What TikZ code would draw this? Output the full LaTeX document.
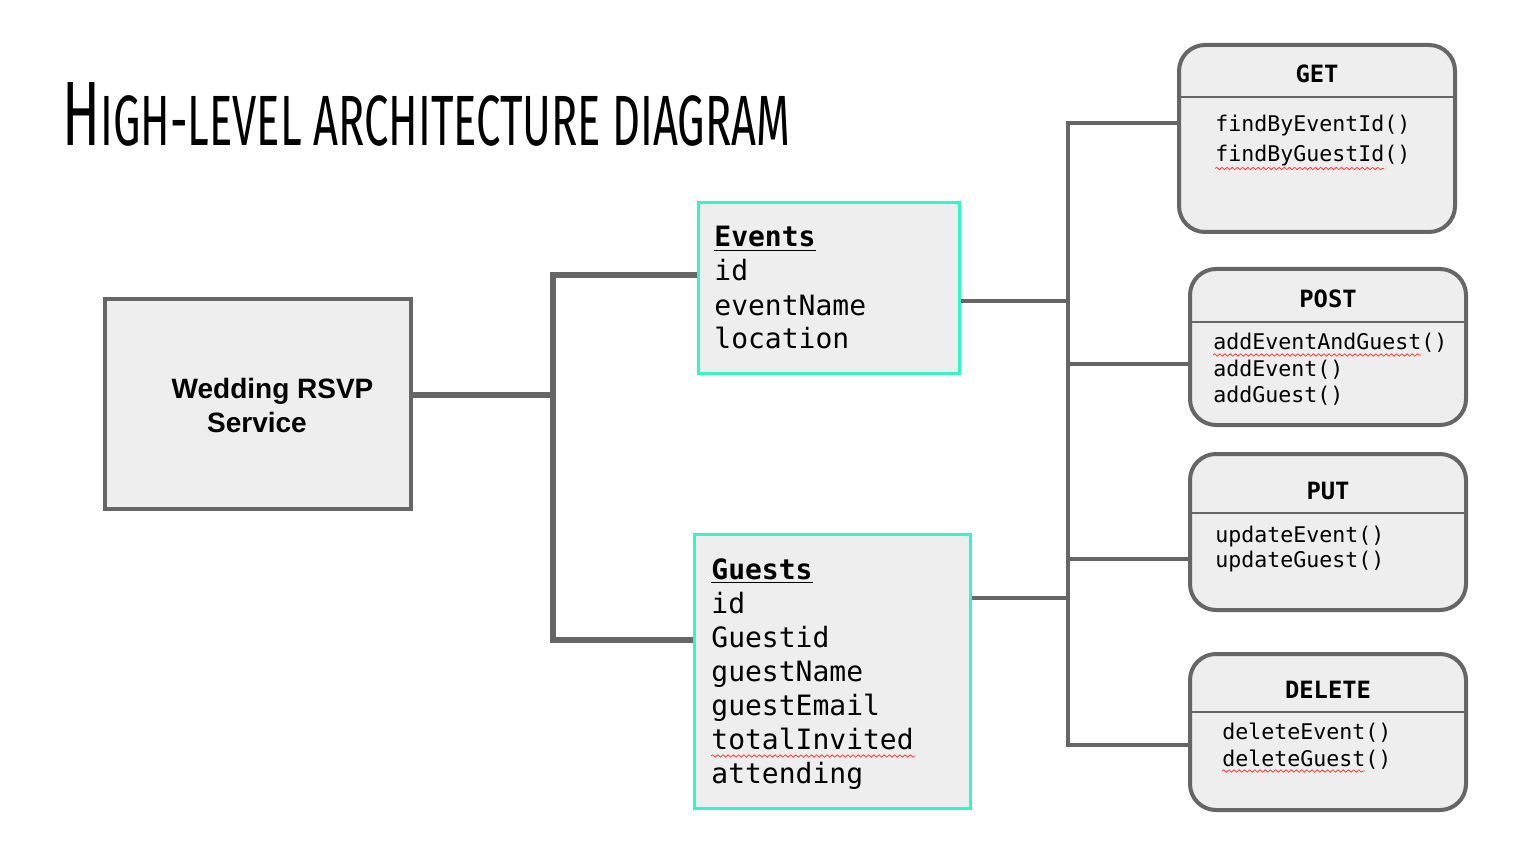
\documentclass[tikz,border=0pt]{standalone}
\usepackage{fontspec}
\usepackage{graphicx}
\setmainfont{Liberation Sans}
\newfontfamily\codefont{DejaVu Sans Mono}
\newfontfamily\titlefont{Fira Sans}
\usetikzlibrary{positioning,decorations.pathmorphing}
\definecolor{linkgray}{RGB}{102,102,102}
\definecolor{boxfill}{RGB}{238,238,238}
\definecolor{tablecyan}{RGB}{50,245,200}
\tikzset{
  servicebox/.style={draw=linkgray,line width=2pt,fill=boxfill,inner sep=0pt},
  tablebox/.style={draw=tablecyan,line width=1.5pt,fill=boxfill,inner sep=0pt},
  apibox/.style={draw=linkgray,line width=2pt,fill=boxfill,rounded corners=13pt,minimum width=138pt,inner sep=0pt},
  fieldtext/.style={anchor=base west,inner sep=0pt,font=\codefont\fontsize{14}{17}\selectfont},
  methodtext/.style={anchor=base west,inner sep=0pt,font=\codefont\fontsize{10.8}{13}\selectfont},
  headtext/.style={anchor=base,inner sep=0pt,font=\codefont\bfseries\fontsize{11.9}{14}\selectfont},
  servicetext/.style={anchor=base,inner sep=0pt,font=\bfseries\fontsize{14}{17}\selectfont},
  link/.style={draw=linkgray,line width=3pt},
  thinlink/.style={draw=linkgray,line width=2.2pt},
  spellmark/.style={draw=red!75,line width=0.4pt,decorate,decoration={snake,amplitude=0.6pt,segment length=2.6pt}}
}
\newcommand{\apibox}[7]{%
  \node[apibox,minimum height=#4] (#1) at (#2,#3) {};%
  \draw[linkgray,line width=0.8pt] (#1.west |- 0,#5) -- (#1.east |- 0,#5);%
  \node[headtext] (#1-head) at (#1.north |- 0,#6) {#7};%
}
\newcommand{\apimethods}[5]{%
  \foreach \m [count=\i from 0] in {#5}{%
    \node[methodtext] (#1-m\i) at (#2,#3+#4*\i) {\m};%
  }%
}
\begin{document}
\begin{tikzpicture}[x=0.5pt,y=-0.5pt]
  \fill[white] (0,0) rectangle (1540,844);
  \useasboundingbox (0,0) rectangle (1540,844);
  \node[anchor=base west,inner sep=0pt] (title) at (62,146)
    {\titlefont\resizebox{364pt}{\height}{\fontsize{45.7}{46}\selectfont H\fontsize{35.6}{36}\selectfont IGH-LEVEL ARCHITECTURE DIAGRAM}};

  \node[servicebox,minimum width=153pt,minimum height=105pt] (wedding) at (258,404) {};
  \node[servicetext] (wedding-l1) at (272.5,398) {Wedding RSVP};
  \node[servicetext] (wedding-l2) at (257,432) {Service};

  \node[tablebox,minimum width=130.5pt,minimum height=85.5pt] (events) at (829,288) {};
  \node[fieldtext] (events-head) at (714,247) {\underline{\textbf{Events}}};
  \foreach \f [count=\i] in {id,eventName,location}
    \node[fieldtext] (events-f\i) at (714,247+34*\i) {\f};

  \node[tablebox,minimum width=138pt,minimum height=137pt] (guests) at (832.5,671.5) {};
  \node[fieldtext] (guests-head) at (711,579) {\underline{\textbf{Guests}}};
  \foreach \f [count=\i] in {id,Guestid,guestName,guestEmail,totalInvited,attending}
    \node[fieldtext] (guests-f\i) at (711,579+34*\i) {\f};

  \apibox{get}{1317}{138.5}{93.5pt}{97}{83}{GET}
  \apimethods{get}{1215}{132}{29.5}{findByEventId(),findByGuestId()}
  \apibox{post}{1328}{347}{78pt}{322}{307}{POST}
  \apimethods{post}{1213}{350}{26.3}{addEventAndGuest(),addEvent(),addGuest()}
  \apibox{put}{1328}{532}{78pt}{513}{499}{PUT}
  \apimethods{put}{1215}{542}{25.5}{updateEvent(),updateGuest()}
  \apibox{delete}{1328}{732}{78pt}{712}{698}{DELETE}
  \apimethods{delete}{1222}{739}{27}{deleteEvent(),deleteGuest()}

  \coordinate (busL) at (553,395);
  \coordinate (busR) at (1068,301);
  \draw[link] (wedding.east |- 0,395) -- (busL);
  \draw[link] (events.west |- 0,275) -| (busL) |- (guests.west |- 0,640);
  \draw[thinlink] (events.east |- 0,301) -- (busR);
  \draw[thinlink] (get.west |- 0,123) -| (busR) |- (delete.west |- 0,745);
  \draw[thinlink] (post.west |- 0,364) -- (busR |- 0,364);
  \draw[thinlink] (put.west |- 0,559) -- (busR |- 0,559);
  \draw[thinlink] (guests.east |- 0,598) -- (busR |- 0,598);

  \draw[spellmark] ([yshift=-3.5pt]get-m1.base west) -- ++(169,0);
  \draw[spellmark] ([yshift=-2.5pt]post-m0.base west) -- ++(208,0);
  \draw[spellmark] ([yshift=-3.5pt]guests-f5.base west) -- ++(204,0);
  \draw[spellmark] ([yshift=-2.5pt]delete-m1.base west) -- ++(143,0);
\end{tikzpicture}
\end{document}
